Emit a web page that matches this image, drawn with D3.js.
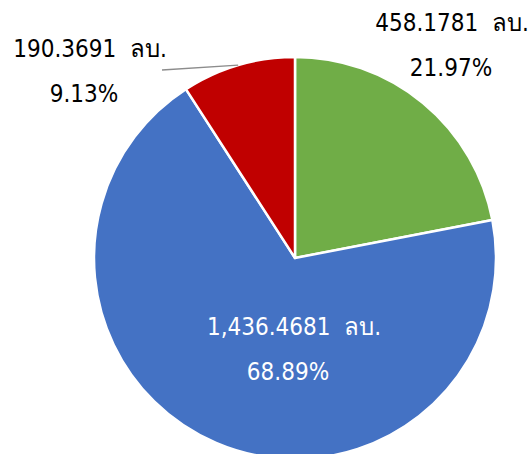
<!DOCTYPE html>
<html><head><meta charset="utf-8">
<script src="https://cdn.jsdelivr.net/npm/d3@7"></script>
<style>html,body{margin:0;padding:0;background:#fff;overflow:hidden} text{white-space:pre}</style>
</head><body>
<svg id="c" width="531" height="454"></svg>
<script>
const categories = ["กลุ่ม 1", "กลุ่ม 2", "กลุ่ม 3"];
const values = [458.1781, 1436.4681, 190.3691];
const valueLabels = ["458.1781  ลบ.", "1,436.4681  ลบ.", "190.3691  ลบ."];
const percentLabels = ["21.97%", "68.89%", "9.13%"];
const colors = ["#70AD47", "#4472C4", "#C00000"];

// layout (label anchor positions in px, relative to the pie centre)
const cx = 295, cy = 258, R = 201;
const labelPos = [[157, -227], [-1, 77], [-205, -201]];
const pctShift = [-1, -6, -6];
const textColor = ["#000", "#fff", "#000"];

const svg = d3.select("#c");
const g = svg.append("g").attr("transform", `translate(${cx},${cy})`);
const pie = d3.pie().sort(null).value(d => d)(values);
const arc = d3.arc().innerRadius(0).outerRadius(R);

g.selectAll("path").data(pie).join("path")
  .attr("d", arc).attr("fill", (d, i) => colors[i])
  .attr("stroke", "#fff").attr("stroke-width", 2.5).attr("stroke-linejoin", "round");

// leader line for small slice
const small = pie[2];
const mid = (small.startAngle + small.endAngle) / 2;
const edge = [R * Math.sin(mid), -R * Math.cos(mid)];
g.append("line")
  .attr("x1", -133).attr("y1", -188)
  .attr("x2", edge[0]).attr("y2", edge[1])
  .attr("stroke", "#8c8c8c").attr("stroke-width", 1.3);

const font = "'DejaVu Sans Condensed', 'DejaVu Sans', sans-serif";
pie.forEach((d, i) => {
  const t = g.append("text").attr("text-anchor", "middle")
    .attr("font-family", font).attr("font-size", 24).attr("fill", textColor[i]);
  t.append("tspan").attr("x", labelPos[i][0]).attr("y", labelPos[i][1]).text(valueLabels[i]);
  t.append("tspan").attr("x", labelPos[i][0] + pctShift[i]).attr("y", labelPos[i][1] + 45).text(percentLabels[i]);
});
</script>
</body></html>
